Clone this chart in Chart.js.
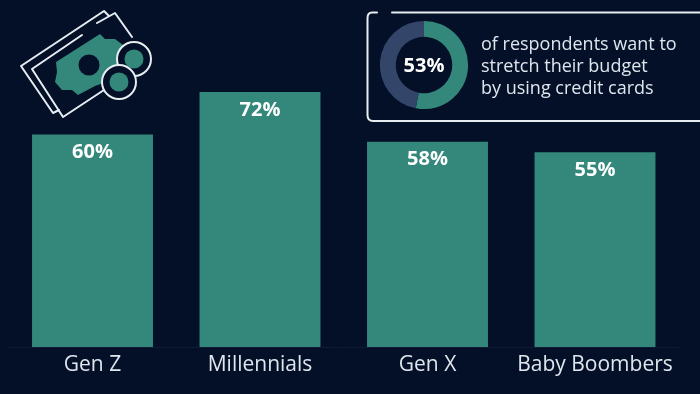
<!DOCTYPE html>
<html lang="en">
<head>
  <meta charset="UTF-8">
  <title>Credit card budget stretching</title>
  <script src="https://cdn.jsdelivr.net/npm/chart.js"></script>
  <style>
    html, body { margin: 0; padding: 0; background: #031027; }
    #stage { position: relative; width: 700px; height: 394px; overflow: hidden; background: #031027; font-family: "Open Sans", sans-serif; }
    #bars { position: absolute; left: 0; top: 0; }
    #donut { position: absolute; left: 379px; top: 20px; }
    #art { position: absolute; left: 0; top: 0; }
    #pct { position: absolute; left: 384px; top: 51px; width: 80px; text-align: center; color: #fff; font-weight: 700; font-size: 20px; line-height: 28px; }
    #note { position: absolute; left: 481px; top: 32px; color: #dfe6ee; font-size: 18px; line-height: 22px; white-space: nowrap; }
  </style>
</head>
<body>
  <div id="stage">
    <canvas id="bars" width="700" height="394"></canvas>
    <svg id="art" width="700" height="394" fill="none" stroke="#e8edf2" stroke-width="2" stroke-linejoin="round" stroke-linecap="round">
      <!-- callout frame -->
      <path d="M377 12.5 H372 Q367.5 12.5 367.5 18 V115 Q367.5 121 373 121 H700 M392 12.5 H700" />
      <!-- banknote icon -->
      <path d="M109 16 L104 11 L21 66 L53 113 L59 110" />
      <path d="M82 35 L32 69 L63 117 L107 88 M97 23 L115 13 L132 37" />
      <path stroke="none" fill="#33887b" d="M100 34 L105 39 L115 39 L123 45 L132 60 L112 80 L95 86 L78 95 L72 90 L62 90 L55 82 L57 72 L56 62 Z" />
      <circle cx="89" cy="65" r="10.5" stroke="none" fill="#031027" />
      <circle cx="134" cy="59" r="17" fill="#031027" />
      <circle cx="134" cy="59" r="9.5" stroke="none" fill="#33887b" />
      <circle cx="119" cy="82" r="17" fill="#031027" />
      <circle cx="119" cy="82" r="9.5" stroke="none" fill="#33887b" />
    </svg>
    <canvas id="donut" width="90" height="90"></canvas>
    <div id="pct">53%</div>
    <div id="note">of respondents want to<br>stretch their budget<br>by using credit cards</div>
  </div>

  <script>
    const categories = ['Gen Z', 'Millennials', 'Gen X', 'Baby Boombers'];
    const shares = [60, 72, 58, 55];
    const barLabels = ['60%', '72%', '58%', '55%'];
    const donutValues = [53, 47];

    const teal = '#33887b';

    // Percent labels just under the top of each bar
    const barLabelPlugin = {
      id: 'barLabels',
      afterDatasetsDraw(chart) {
        const ctx = chart.ctx;
        ctx.save();
        ctx.fillStyle = '#ffffff';
        ctx.font = '700 20px "Open Sans", sans-serif';
        ctx.textAlign = 'center';
        ctx.textBaseline = 'middle';
        chart.getDatasetMeta(0).data.forEach((bar, i) => {
          ctx.fillText(barLabels[i], bar.x, bar.y + 18);
        });
        ctx.restore();
      }
    };

    new Chart(document.getElementById('bars'), {
      type: 'bar',
      data: {
        labels: categories,
        datasets: [{
          data: shares,
          backgroundColor: teal,
          borderWidth: 0,
          barPercentage: 0.722,
          categoryPercentage: 1
        }]
      },
      options: {
        responsive: false,
        animation: false,
        layout: { padding: { left: 8.75, right: 21.25, top: 0, bottom: 0 } },
        plugins: { legend: { display: false }, tooltip: { enabled: false } },
        scales: {
          x: {
            grid: { display: false },
            border: { color: '#0f1b35', width: 1 },
            ticks: { color: '#dfe6ee', font: { family: '"Open Sans", sans-serif', size: 21 }, padding: -3, maxRotation: 0, autoSkip: false },
            afterFit(scale) { scale.height = 47; }
          },
          y: { display: false, min: 0, max: 98 }
        }
      },
      plugins: [barLabelPlugin]
    });

    new Chart(document.getElementById('donut'), {
      type: 'doughnut',
      data: {
        labels: ['Yes', 'Other'],
        datasets: [{
          data: donutValues,
          backgroundColor: [teal, '#33466a'],
          borderWidth: 0
        }]
      },
      options: {
        responsive: false,
        animation: false,
        cutout: '64%',
        radius: '98%',
        plugins: { legend: { display: false }, tooltip: { enabled: false } }
      }
    });
  </script>
</body>
</html>
